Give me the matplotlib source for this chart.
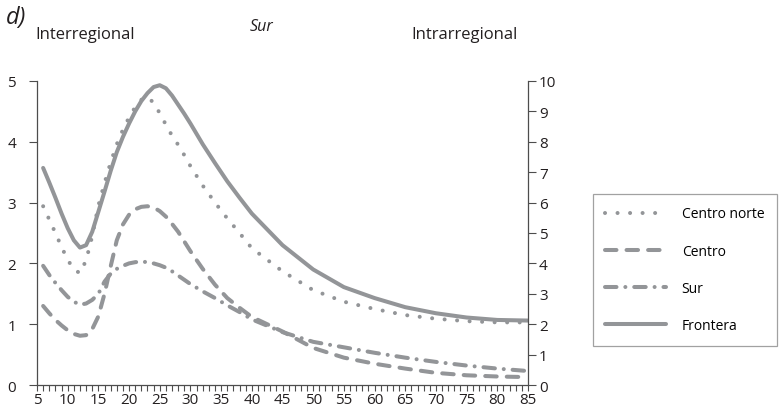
import matplotlib
matplotlib.use("Agg")
import matplotlib.pyplot as plt
from matplotlib.ticker import MultipleLocator

plt.rcParams['font.family'] = ['Open Sans', 'DejaVu Sans']

# edad (años) y tasas por región
edad = [6, 7, 8, 9, 10, 11, 12, 13, 14, 15, 16, 17, 18, 19, 20, 21, 22, 23, 24,
        25, 26, 27, 28, 29, 30, 32, 34, 36, 38, 40, 45, 50, 55, 60, 65, 70, 75,
        80, 85]

centro_norte = [2.94, 2.72, 2.50, 2.27, 2.06, 1.90, 1.84, 2.05, 2.45, 2.95, 3.32,
                3.66, 3.96, 4.20, 4.40, 4.57, 4.69, 4.74, 4.64, 4.47, 4.28, 4.10,
                3.95, 3.78, 3.60, 3.28, 3.00, 2.74, 2.50, 2.25, 1.87, 1.56, 1.37,
                1.25, 1.15, 1.09, 1.05, 1.03, 1.03]
centro = [1.30, 1.18, 1.07, 0.98, 0.90, 0.84, 0.81, 0.82, 0.92, 1.13, 1.50,
          1.95, 2.38, 2.64, 2.80, 2.89, 2.93, 2.94, 2.92, 2.86, 2.77, 2.65,
          2.52, 2.36, 2.20, 1.91, 1.65, 1.43, 1.27, 1.12, 0.88, 0.61, 0.45,
          0.35, 0.27, 0.20, 0.16, 0.14, 0.13]
sur = [1.96, 1.81, 1.68, 1.56, 1.45, 1.37, 1.32, 1.34, 1.40, 1.50, 1.70,
       1.83, 1.91, 1.96, 2.00, 2.02, 2.03, 2.02, 2.00, 1.97, 1.93, 1.87,
       1.80, 1.73, 1.66, 1.54, 1.43, 1.31, 1.20, 1.08, 0.87, 0.71, 0.62,
       0.53, 0.45, 0.38, 0.32, 0.27, 0.23]
frontera = [3.57, 3.33, 3.08, 2.82, 2.58, 2.38, 2.26, 2.30, 2.52, 2.85, 3.18,
            3.52, 3.83, 4.08, 4.30, 4.50, 4.67, 4.80, 4.90, 4.93, 4.88, 4.76,
            4.61, 4.46, 4.30, 3.96, 3.65, 3.35, 3.08, 2.82, 2.30, 1.90, 1.61,
            1.43, 1.28, 1.18, 1.11, 1.07, 1.06]

series = ["Centro norte", "Centro", "Sur", "Frontera"]
estilos = [(0, (0.01, 3.1)), (0, (2.85, 2.5)), (0, (2.85, 2.2, 0.01, 2.2)), "-"]

gris = "#939598"
eje = "#4d4d4d"
texto = "#231f20"

fig = plt.figure(figsize=(7.79, 4.14), dpi=100)
ax = fig.add_axes([0.0475, 0.0676, 0.6303, 0.7344])
ax2 = ax.twinx()

for nombre, vals, ls in zip(series, [centro_norte, centro, sur, frontera], estilos):
    ax.plot(edad, vals, color=gris, lw=2.9, linestyle=ls,
            dash_capstyle="round", solid_capstyle="round",
            solid_joinstyle="round", label=nombre)

ax.set_xlim(5, 85)
ax.set_ylim(0, 5)
ax2.set_ylim(0, 10)

ax.xaxis.set_major_locator(MultipleLocator(5))
ax.xaxis.set_minor_locator(MultipleLocator(1))
ax.yaxis.set_major_locator(MultipleLocator(1))
ax2.yaxis.set_major_locator(MultipleLocator(1))

for a in (ax, ax2):
    for s in a.spines.values():
        s.set_color(eje)
        s.set_linewidth(0.9)
    a.spines["top"].set_visible(False)
ax.spines["right"].set_visible(False)
ax2.spines["left"].set_visible(False)
ax2.spines["bottom"].set_visible(False)

ax.tick_params(axis="x", which="both", direction="out", length=4, width=0.8,
               color=eje, labelsize=11, pad=1, labelcolor=texto)
ax.tick_params(axis="y", direction="out", length=6, width=0.8, color=eje,
               labelsize=11, pad=9, labelcolor=texto)
ax2.tick_params(axis="y", direction="out", length=6, width=0.8, color=eje,
                labelsize=11, pad=2, labelcolor=texto)

fig.text(0.008, 0.985, "d)", fontsize=17, style="italic", va="top", color=texto)
fig.text(0.320, 0.955, "Sur", fontsize=11.5, style="italic", va="top", color=texto)
fig.text(0.045, 0.915, "Interregional", fontsize=12, va="center", color=texto)
fig.text(0.665, 0.915, "Intrarregional", fontsize=12, va="center", ha="right",
         color=texto)

leg = ax.legend(loc="upper left", bbox_to_anchor=(0.761, 0.529),
                bbox_transform=fig.transFigure, frameon=True, fancybox=False,
                handlelength=4.4, handletextpad=1.1, labelspacing=1.6,
                borderpad=0.9, fontsize=10, borderaxespad=0)
leg.get_frame().set_edgecolor("#8a8a8a")
leg.get_frame().set_linewidth(0.9)

fig.savefig("out.png", dpi=100)
